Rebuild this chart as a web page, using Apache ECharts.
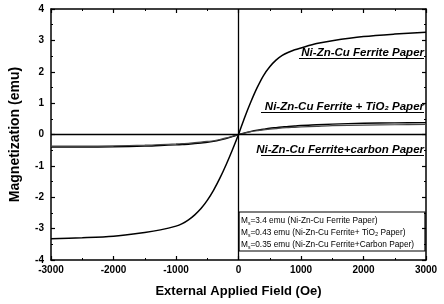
<!DOCTYPE html>
<html>
<head>
<meta charset="utf-8">
<script src="https://cdn.jsdelivr.net/npm/echarts@6/dist/echarts.min.js"></script>
<style>
  html, body { margin: 0; padding: 0; background: #fff; }
  #chart { width: 444px; height: 304px; }
</style>
</head>
<body>
<div id="chart"></div>
<script>
const fieldOe = [-3000, -2500, -2000, -1500, -1250, -1000, -900, -800, -700, -600, -500, -400, -300, -200, -100, 0,
  100, 200, 300, 400, 500, 600, 700, 800, 900, 1000, 1250, 1500, 2000, 2500, 3000]
const ferritePaper = [-3.32, -3.29, -3.24, -3.12, -3.04, -2.92, -2.84, -2.72, -2.56, -2.36, -2.1, -1.78, -1.4, -0.97, -0.5, 0,
  0.55, 1.05, 1.5, 1.88, 2.16, 2.37, 2.52, 2.62, 2.7, 2.76, 2.9, 2.99, 3.12, 3.2, 3.26]
const tio2Paper = [-0.4, -0.4, -0.39, -0.37, -0.35, -0.33, -0.32, -0.31, -0.29, -0.27, -0.25, -0.22, -0.18, -0.13, -0.07, 0,
  0.05, 0.1, 0.14, 0.17, 0.2, 0.22, 0.24, 0.26, 0.27, 0.29, 0.31, 0.33, 0.36, 0.37, 0.38]
const carbonPaper = [-0.37, -0.37, -0.36, -0.34, -0.32, -0.3, -0.29, -0.28, -0.26, -0.24, -0.22, -0.2, -0.16, -0.11, -0.06, 0,
  0.045, 0.09, 0.12, 0.15, 0.17, 0.19, 0.21, 0.22, 0.23, 0.24, 0.26, 0.28, 0.3, 0.31, 0.32]
const xTicks = [-3000, 3000, 1000]
const yTicks = [-4, 4, 1]
const curveLabels = ['Ni-Zn-Cu Ferrite Paper', 'Ni-Zn-Cu Ferrite + TiO₂ Paper', 'Ni-Zn-Cu Ferrite+carbon Paper']
const msLines = [
  '3.4 emu (Ni-Zn-Cu Ferrite Paper)',
  '0.43 emu (Ni-Zn-Cu Ferrite+ TiO₂ Paper)',
  '0.35 emu (Ni-Zn-Cu Ferrite+Carbon Paper)'
]

const FONT = '"Liberation Sans", Arial, sans-serif'
const pair = ys => fieldOe.map((x, i) => [x, ys[i]])

const chart = echarts.init(document.getElementById('chart'), null, { renderer: 'canvas' })

const baseX = {
  type: 'value',
  min: xTicks[0],
  max: xTicks[1],
  interval: xTicks[2],
  axisLine: { onZero: false, lineStyle: { color: '#000', width: 1.5 } },
  axisTick: { inside: true, length: 4, lineStyle: { color: '#000', width: 1.2 } },
  minorTick: { show: true, splitNumber: 2, length: 2, lineStyle: { color: '#000' } },
  splitLine: { show: false }
}
const baseY = {
  type: 'value',
  min: yTicks[0],
  max: yTicks[1],
  interval: yTicks[2],
  axisLine: { onZero: false, lineStyle: { color: '#000', width: 1.5 } },
  axisTick: { inside: true, length: 4, lineStyle: { color: '#000', width: 1.2 } },
  minorTick: { show: true, splitNumber: 2, length: 2, lineStyle: { color: '#000' } },
  splitLine: { show: false }
}

// curve labels: text centre y, underline start x
const labelPos = [[53, 299], [107, 261], [150, 261]]
const graphic = []
curveLabels.forEach((t, i) => {
  const [y, x0] = labelPos[i]
  graphic.push({
    type: 'text', x: 424, y: y,
    style: { text: t, font: 'italic bold 11.5px ' + FONT, fill: '#000', align: 'right', verticalAlign: 'middle' }
  })
  graphic.push({ type: 'line', shape: { x1: x0, y1: y + 5.5, x2: 424, y2: y + 5.5 }, style: { stroke: '#000', lineWidth: 1.2 } })
})
// saturation magnetization box
graphic.push({ type: 'rect', shape: { x: 239, y: 212, width: 186, height: 39 }, style: { fill: '#fff', stroke: '#000', lineWidth: 1.2 } })
msLines.forEach((line, i) => {
  graphic.push({
    type: 'text', left: 241, top: 217 + i * 12,
    style: {
      text: '{m|M}{s|s}{t|=' + line + '}',
      rich: {
        m: { font: '8.3px ' + FONT, fill: '#000' },
        s: { font: '5px ' + FONT, fill: '#000', padding: [5, 0, 0, 0] },
        t: { font: '8.3px ' + FONT, fill: '#000' }
      }
    }
  })
})

chart.setOption({
  animation: false,
  backgroundColor: '#fff',
  grid: { left: 49, right: 18, top: 9, bottom: 44 },
  xAxis: [
    Object.assign({}, baseX, {
      position: 'bottom',
      name: 'External Applied Field (Oe)',
      nameLocation: 'middle',
      nameGap: 25,
      nameTextStyle: { fontFamily: FONT, fontWeight: 'bold', fontSize: 13, color: '#000' },
      axisLabel: { fontFamily: FONT, fontWeight: 'bold', fontSize: 10, color: '#000', margin: 5, formatter: v => String(v) }
    }),
    Object.assign({}, baseX, { position: 'top', axisLabel: { show: false } })
  ],
  yAxis: [
    Object.assign({}, baseY, {
      position: 'left',
      name: 'Magnetization (emu)',
      nameLocation: 'middle',
      nameGap: 29,
      nameTextStyle: { fontFamily: FONT, fontWeight: 'bold', fontSize: 14, color: '#000' },
      axisLabel: { fontFamily: FONT, fontWeight: 'bold', fontSize: 10, color: '#000', margin: 7 }
    }),
    Object.assign({}, baseY, { position: 'right', axisLabel: { show: false } })
  ],
  series: [
    {
      name: curveLabels[0], type: 'line', smooth: 0.3, showSymbol: false,
      data: pair(ferritePaper),
      lineStyle: { color: '#000', width: 1.5 },
      markLine: {
        silent: true, symbol: 'none', label: { show: false },
        lineStyle: { color: '#000', width: 1.3, type: 'solid' },
        data: [{ xAxis: 0 }, { yAxis: 0 }]
      }
    },
    {
      name: curveLabels[1], type: 'line', smooth: 0.3, showSymbol: false,
      data: pair(tio2Paper),
      lineStyle: { color: '#000', width: 1.4 }
    },
    {
      name: curveLabels[2], type: 'line', smooth: 0.3, showSymbol: false,
      data: pair(carbonPaper),
      lineStyle: { color: '#444', width: 1.2 }
    }
  ],
  graphic
})
</script>
</body>
</html>
